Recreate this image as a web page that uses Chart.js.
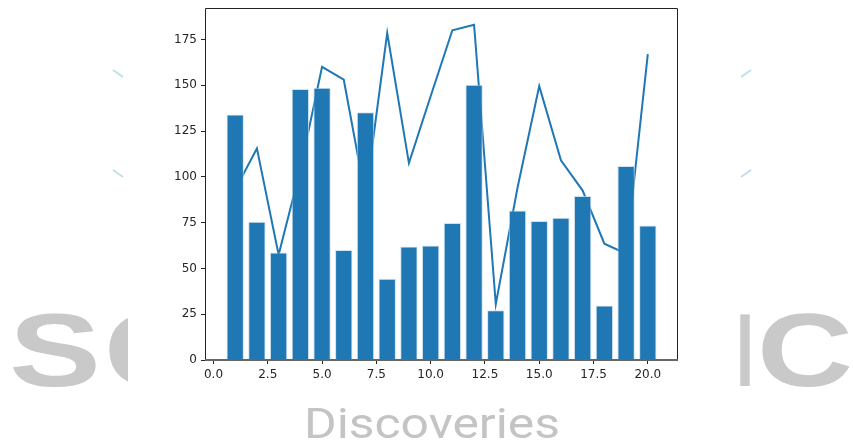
<!DOCTYPE html>
<html>
<head>
<meta charset="utf-8">
<script src="https://cdn.jsdelivr.net/npm/chart.js@4/dist/chart.umd.min.js"></script>
<style>
  html, body { margin: 0; padding: 0; background: #ffffff; }
  #wrap { position: relative; width: 853px; height: 444px; }
</style>
</head>
<body>
<div id="wrap"><canvas id="chart" width="853" height="444"></canvas></div>
<script>
// Positions along the x axis
const positions = [1, 2, 3, 4, 5, 6, 7, 8, 9, 10, 11, 12, 13, 14, 15, 16, 17, 18, 19, 20];
// Bar heights
const barValues = [134, 75.4, 58.7, 148, 148.6, 60, 135.3, 44.3, 62, 62.5,
                   74.8, 150.2, 27.2, 81.6, 75.9, 77.6, 89.5, 29.8, 105.9, 73.4];
// Line values
const lineValues = [93, 115.5, 57.5, 104, 160, 153, 89, 178.5, 107.5, 144,
                    180, 183, 30.5, 94, 149.5, 109, 92.5, 63.5, 58, 167];
// Tick labels
const xTicks = [0, 2.5, 5, 7.5, 10, 12.5, 15, 17.5, 20];
const yTicks = [0, 25, 50, 75, 100, 125, 150, 175];

const BLUE = '#1f77b4';
const TEXT = '#262626';

// Background watermark behind the white figure panel
const backdrop = {
  id: 'backdrop',
  beforeDraw(chart) {
    const ctx = chart.ctx;
    ctx.save();
    ctx.fillStyle = '#ffffff';
    ctx.fillRect(0, 0, chart.width, chart.height);

    function stretched(text, x, baseline, width, font, color) {
      ctx.font = font;
      const w = ctx.measureText(text).width;
      ctx.save();
      ctx.translate(x, baseline);
      ctx.scale(width / w, 1);
      ctx.fillStyle = color;
      ctx.textBaseline = 'alphabetic';
      ctx.textAlign = 'left';
      ctx.fillText(text, 0, 0);
      ctx.restore();
    }
    const big = 'bold 104px "Liberation Sans", Arial, sans-serif';
    const grey = '#c9c9c9';
    stretched('S', 9, 386, 92, big, grey);
    stretched('C', 104, 386, 94, big, grey);
    stretched('I', 736, 386, 18, big, grey);
    stretched('C', 757, 386, 96, big, grey);
    stretched('Discoveries', 304, 438, 256, '42px Roboto, "Open Sans", sans-serif', '#c4c4c4');

    // small accent strokes
    ctx.strokeStyle = '#bfe0ea';
    ctx.lineWidth = 2;
    [[113, 70], [113, 170]].forEach(([x, y]) => {
      ctx.beginPath(); ctx.moveTo(x, y); ctx.lineTo(x + 10, y + 7); ctx.stroke();
    });
    [[741, 77], [741, 177]].forEach(([x, y]) => {
      ctx.beginPath(); ctx.moveTo(x, y); ctx.lineTo(x + 10, y - 7); ctx.stroke();
    });

    // white figure panel
    ctx.fillStyle = '#ffffff';
    ctx.fillRect(128, 0, 600, 398);
    ctx.restore();
  }
};

// Axes frame (all four spines)
const frame = {
  id: 'frame',
  afterDatasetsDraw(chart) {
    const { ctx, chartArea: a } = chart;
    ctx.save();
    ctx.strokeStyle = '#222222';
    ctx.lineWidth = 1;
    ctx.beginPath();
    ctx.moveTo(a.left + 0.5, a.bottom);
    ctx.lineTo(a.left + 0.5, a.top + 0.5);
    ctx.lineTo(a.right - 0.5, a.top + 0.5);
    ctx.lineTo(a.right - 0.5, a.bottom);
    ctx.stroke();
    ctx.strokeStyle = '#666666';
    ctx.lineWidth = 2;
    ctx.beginPath();
    ctx.moveTo(a.left, a.bottom);
    ctx.lineTo(a.right, a.bottom);
    ctx.stroke();
    ctx.restore();
  }
};

new Chart(document.getElementById('chart'), {
  type: 'bar',
  data: {
    datasets: [
      {
        type: 'bar',
        data: positions.map((x, i) => ({ x: x, y: barValues[i] })),
        backgroundColor: BLUE,
        borderColor: 'rgba(190,216,236,0.75)',
        borderWidth: 1,
        barPercentage: 0.8,
        categoryPercentage: 1.0,
        order: 0
      },
      {
        type: 'line',
        data: positions.map((x, i) => ({ x: x, y: lineValues[i] })),
        borderColor: BLUE,
        borderWidth: 2,
        pointRadius: 0,
        tension: 0,
        fill: false,
        order: 1
      }
    ]
  },
  options: {
    responsive: false,
    animation: false,
    devicePixelRatio: 1,
    layout: { padding: { left: 150, right: 175, top: 8, bottom: 54 } },
    plugins: { legend: { display: false }, tooltip: { enabled: false } },
    scales: {
      x: {
        type: 'linear',
        offset: false,
        min: -0.39,
        max: 21.39,
        afterBuildTicks(scale) { scale.ticks = xTicks.map(v => ({ value: v })); },
        afterFit(scale) { scale.height = 30; scale.paddingLeft = 0; scale.paddingRight = 0; },
        grid: { offset: false, drawOnChartArea: false, drawTicks: true, tickLength: 4, tickColor: TEXT, tickWidth: 1 },
        border: { display: false },
        ticks: {
          color: TEXT,
          padding: 4,
          maxRotation: 0,
          autoSkip: false,
          font: { family: '"DejaVu Sans", sans-serif', size: 12 },
          callback: v => Number(v).toFixed(1)
        }
      },
      y: {
        type: 'linear',
        min: 0,
        max: 192.15,
        afterBuildTicks(scale) { scale.ticks = yTicks.map(v => ({ value: v })); },
        afterFit(scale) { scale.width = 55; scale.paddingTop = 0; scale.paddingBottom = 0; },
        grid: { drawOnChartArea: false, drawTicks: true, tickLength: 4, tickColor: TEXT, tickWidth: 1 },
        border: { display: false },
        ticks: {
          color: TEXT,
          padding: 4,
          autoSkip: false,
          font: { family: '"DejaVu Sans", sans-serif', size: 12 },
          callback: v => String(v)
        }
      }
    }
  },
  plugins: [backdrop, frame]
});
</script>
</body>
</html>
